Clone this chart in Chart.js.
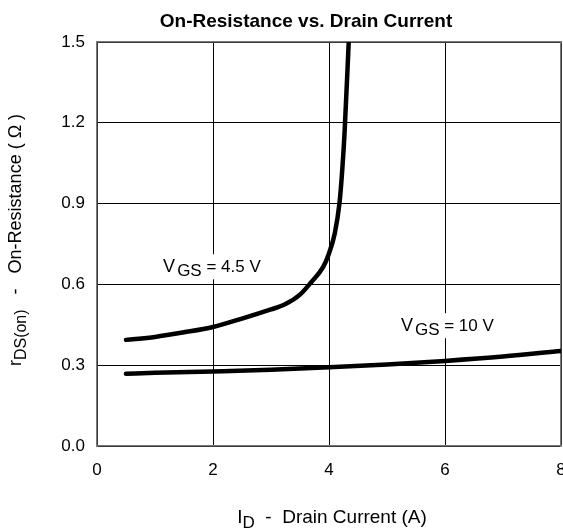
<!DOCTYPE html>
<html>
<head>
<meta charset="utf-8">
<script src="https://cdn.jsdelivr.net/npm/chart.js@4.4.1/dist/chart.umd.min.js"></script>
<style>
  html, body { margin: 0; padding: 0; background: #fff; }
  #wrap { width: 563px; height: 531px; }
</style>
</head>
<body>
<div id="wrap"><canvas id="rdsChart" width="563" height="531"></canvas></div>
<script>
// On-Resistance vs. Drain Current
const xTicks = [0, 2, 4, 6, 8];
const yTicks = [0.0, 0.3, 0.6, 0.9, 1.2, 1.5];

const id45 = [0.5, 1.0, 1.5, 2.0, 2.5, 3.0, 3.25, 3.5, 3.7, 3.9, 4.0, 4.1, 4.18, 4.23, 4.27, 4.34];
const r45  = [0.394, 0.405, 0.422, 0.442, 0.473, 0.507, 0.527, 0.562, 0.61, 0.665, 0.715, 0.79, 0.9, 1.03, 1.17, 1.5];

const id10 = [0.5, 1, 2, 3, 4, 5, 6, 7, 8];
const r10  = [0.268, 0.272, 0.277, 0.283, 0.292, 0.303, 0.316, 0.332, 0.353];

const FONT = "'Liberation Sans', Arial, sans-serif";

const toPts = (xs, ys) => xs.map((x, i) => ({ x: x, y: ys[i] }));

// "main" + subscript + rest, left aligned at x; s = {main, sub, rest, gap, drop}
function subText(ctx, x, y, parts, s, measureOnly) {
  const x0 = x;
  ctx.font = s.main + 'px ' + FONT;
  if (!measureOnly) ctx.fillText(parts[0], x, y);
  x += ctx.measureText(parts[0]).width + s.gap;
  ctx.font = s.sub + 'px ' + FONT;
  if (!measureOnly) ctx.fillText(parts[1], x, y + s.drop);
  x += ctx.measureText(parts[1]).width;
  ctx.font = s.rest + 'px ' + FONT;
  if (!measureOnly) ctx.fillText(parts[2], x, y);
  x += ctx.measureText(parts[2]).width;
  return x - x0;
}

const textPlugin = {
  id: 'textPlugin',
  afterDatasetsDraw(chart) {
    const ctx = chart.ctx;
    const xs = chart.scales.x, ys = chart.scales.y;
    ctx.save();
    ctx.fillStyle = '#000';
    ctx.textBaseline = 'alphabetic';
    ctx.textAlign = 'left';

    // curve labels with white boxes
    const lblStyle = { main: 18, sub: 17, rest: 17, gap: 2, drop: 4 };
    const labels = [
      { x: 1.14, y: 0.645, rest: ' = 4.5 V' },
      { x: 5.24, y: 0.426, rest: ' = 10 V' }
    ];
    labels.forEach(l => {
      const px = xs.getPixelForValue(l.x);
      const py = ys.getPixelForValue(l.y);
      const parts = ['V', 'GS', l.rest];
      const w = subText(ctx, px, py, parts, lblStyle, true);
      ctx.fillStyle = '#fff';
      ctx.fillRect(px - 5, py - 18, w + 10, 25);
      ctx.fillStyle = '#000';
      subText(ctx, px, py, parts, lblStyle, false);
    });

    // title
    ctx.font = 'bold 19px ' + FONT;
    ctx.textAlign = 'center';
    ctx.fillText('On-Resistance vs. Drain Current', 306, 27);
    ctx.textAlign = 'left';

    // x axis title
    const xStyle = { main: 19, sub: 17, rest: 19, gap: 0, drop: 5 };
    const xParts = ['I', 'D', '  -  Drain Current (A)'];
    const xw = subText(ctx, 0, 0, xParts, xStyle, true);
    subText(ctx, 332 - xw / 2, 523, xParts, xStyle, false);

    // y axis title
    const yStyle = { main: 18, sub: 16, rest: 18, gap: 0, drop: 5 };
    const yParts = ['r', 'DS(on)', '   -   On-Resistance ( \u03A9 )'];
    ctx.translate(21, 240);
    ctx.rotate(-Math.PI / 2);
    const yw = subText(ctx, 0, 0, yParts, yStyle, true);
    subText(ctx, -yw / 2, 0, yParts, yStyle, false);
    ctx.restore();
  }
};

document.addEventListener('DOMContentLoaded', () => {
  const ctx = document.getElementById('rdsChart');
  new Chart(ctx.getContext('2d'), {
    type: 'line',
    data: {
      datasets: [
        { label: 'VGS = 4.5 V', data: toPts(id45, r45) },
        { label: 'VGS = 10 V', data: toPts(id10, r10) }
      ]
    },
    options: {
      responsive: false,
      animation: false,
      layout: { padding: { left: 0, right: 2, top: 42, bottom: 55 } },
      elements: {
        line: { borderColor: '#000', borderWidth: 4.5, cubicInterpolationMode: 'monotone', borderCapStyle: 'round' },
        point: { radius: 0 }
      },
      plugins: {
        legend: { display: false },
        tooltip: { enabled: false }
      },
      scales: {
        x: {
          type: 'linear', min: 0, max: 8,
          afterBuildTicks: s => { s.ticks = xTicks.map(v => ({ value: v })); },
          afterFit: s => { s.height = 30; s.paddingLeft = 0; s.paddingRight = 0; },
          grid: { color: '#000', lineWidth: 1, drawTicks: false },
          border: { color: '#777', width: 1.5 },
          ticks: { color: '#000', font: { family: FONT, size: 17 }, padding: 14, maxRotation: 0 }
        },
        y: {
          type: 'linear', min: 0, max: 1.5,
          afterBuildTicks: s => { s.ticks = yTicks.map(v => ({ value: v })); },
          afterFit: s => { s.width = 97; s.paddingTop = 0; s.paddingBottom = 0; },
          grid: { color: '#000', lineWidth: 1, drawTicks: false },
          border: { color: '#777', width: 1.5 },
          ticks: { color: '#000', font: { family: FONT, size: 17 }, padding: 12, callback: v => v.toFixed(1) }
        },
        x2: {
          type: 'linear', position: 'top', min: 0, max: 8,
          afterFit: s => { s.height = 0; s.paddingLeft = 0; s.paddingRight = 0; },
          grid: { display: false, drawTicks: false },
          border: { color: '#777', width: 1.5 },
          ticks: { display: false }
        },
        y2: {
          type: 'linear', position: 'right', min: 0, max: 1.5,
          afterFit: s => { s.width = 0; s.paddingTop = 0; s.paddingBottom = 0; },
          grid: { display: false, drawTicks: false },
          border: { color: '#777', width: 1.5 },
          ticks: { display: false }
        }
      }
    },
    plugins: [textPlugin]
  });
});
</script>
</body>
</html>
